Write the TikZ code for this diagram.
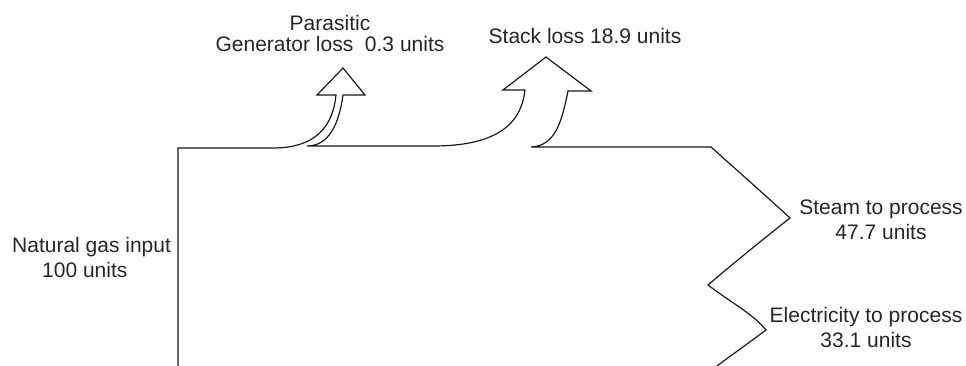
\documentclass[tikz,border=0pt]{standalone}
\usepackage{fontspec}
\setmainfont{Liberation Sans}
\begin{document}
\begin{tikzpicture}[x=1pt,y=-1pt,
  flowline/.style={draw=black!90, line width=1.2pt, line join=miter},
  label/.style={inner sep=0pt, text=black!85, font=\fontsize{21}{25}\selectfont},
]
\useasboundingbox (0,0) rectangle (966,366);

% energy-flow outline: input band, two loss arrows, two process outputs
\draw[flowline]
  (178,366) -- (178,148) -- (273,148)
  .. controls (316,148) and (333,126) .. (336,95)
  -- (317,95) -- (343,68) -- (365,95) -- (343,95)
  .. controls (339,124) and (329,146) .. (307,146)
  -- (433,146)
  .. controls (494,146) and (521,126) .. (525,90)
  -- (503,90) -- (546,57) -- (591,91) -- (568,91)
  .. controls (562,120) and (556,146) .. (531,147)
  -- (711,147)
  .. controls (740,173) and (765,195) .. (790,218)
  .. controls (762,240) and (735,262) .. (708,285)
  .. controls (730,302) and (752,313) .. (766,330)
  .. controls (750,342) and (733,354) .. (717,366);

% flow labels
\node[label, anchor=north west, align=left] (gasin) at (12,237)
  {Natural gas input\\\hspace*{30pt}100 units};
\node[label, anchor=north, align=center, font=\fontsize{21}{21}\selectfont] (genloss) at (330,15)
  {Parasitic\\Generator loss\ \ 0.3 units};
\node[label, anchor=north] (stack) at (585,28) {Stack loss 18.9 units};
\node[label, anchor=north, align=center] (steam) at (881,200)
  {Steam to process\\47.7 units};
\node[label, anchor=north, align=center] (elec) at (866,307)
  {Electricity to process\\33.1 units};
\end{tikzpicture}
\end{document}
